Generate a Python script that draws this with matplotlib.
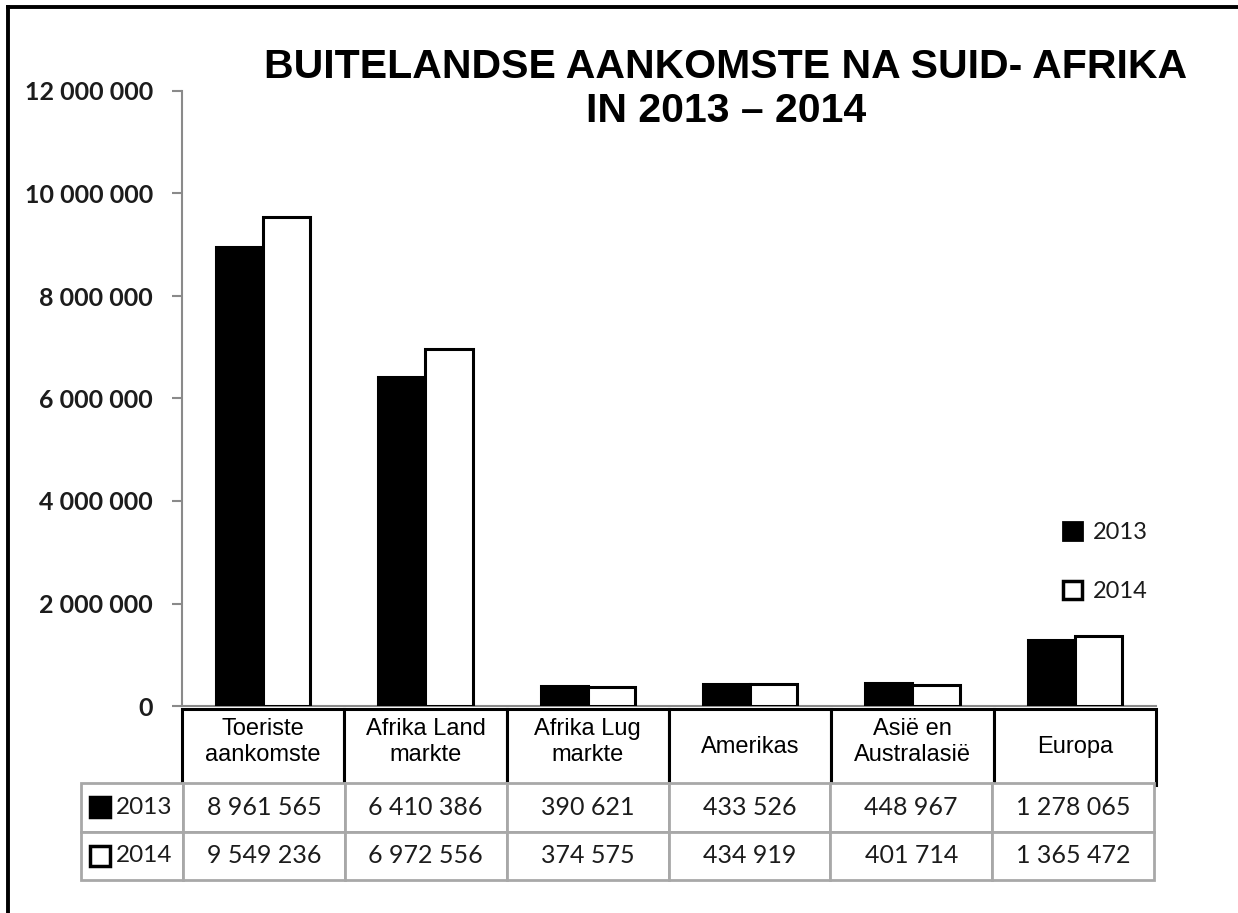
import matplotlib
matplotlib.use("Agg")
import matplotlib.pyplot as plt
from matplotlib.patches import Patch, Rectangle
from matplotlib.lines import Line2D
from matplotlib.ticker import FuncFormatter, MultipleLocator
from matplotlib.transforms import Affine2D

# data
categories = ["Toeriste\naankomste", "Afrika Land\nmarkte", "Afrika Lug\nmarkte",
              "Amerikas", "Asië en\nAustralasië", "Europa"]
years = ["2013", "2014"]
arrivals_2013 = [8961565, 6410386, 390621, 433526, 448967, 1278065]
arrivals_2014 = [9549236, 6972556, 374575, 434919, 401714, 1365472]

TEXT = "#1c1c1c"
GRID_GRAY = "#a8a8a8"
AXIS_GRAY = "#8a8a8a"


def spaced(v):
    return f"{int(v):,}".replace(",", " ")


fig = plt.figure(figsize=(12.38, 9.13), dpi=100)
W, H = 1238, 913

# axes placed to match the reference in pixels
ax_l, ax_r, ax_top, ax_bot = 182, 1156, 91, 706
ax = fig.add_axes([ax_l / W, 1 - ax_bot / H, (ax_r - ax_l) / W, (ax_bot - ax_top) / H])

x = range(len(categories))
bw = 0.29
ax.bar([i - bw / 2 for i in x], arrivals_2013, bw, color="black",
       edgecolor="black", linewidth=2.2, zorder=3)
ax.bar([i + bw / 2 for i in x], arrivals_2014, bw, color="white",
       edgecolor="black", linewidth=2.2, zorder=3)

ax.set_xlim(-0.5, len(categories) - 0.5)
ax.set_ylim(0, 12_000_000)
ax.yaxis.set_major_locator(MultipleLocator(2_000_000))
ax.yaxis.set_major_formatter(FuncFormatter(lambda v, p: spaced(v)))
ax.set_xticks([])
for s in ("top", "right"):
    ax.spines[s].set_visible(False)
ax.spines["left"].set_color(AXIS_GRAY)
ax.spines["left"].set_linewidth(1.5)
ax.spines["bottom"].set_color(AXIS_GRAY)
ax.spines["bottom"].set_linewidth(1.5)
ax.tick_params(axis="y", length=7, width=1.5, color=AXIS_GRAY, pad=14)
for lab in ax.get_yticklabels():
    lab.set_fontfamily("Lato")
    lab.set_fontweight("bold")
    lab.set_fontsize(18)
    lab.set_color(TEXT)

axh = ax_bot - ax_top
axw = ax_r - ax_l

# category label table directly under the plot
lt_top, lt_bot = 709, 785
cat_tab = ax.table(cellText=[categories], cellLoc="center",
                   bbox=[0, -(lt_bot - ax_bot) / axh, 1, (lt_bot - lt_top) / axh])
cat_tab.auto_set_font_size(False)
for cell in cat_tab.get_celld().values():
    cell.set_edgecolor("black")
    cell.set_linewidth(2.2)
    t = cell.get_text()
    t.set_fontfamily("Liberation Sans")
    t.set_fontsize(17)
    t.set_linespacing(1.25)
    t.set_color("black")
    if "\n" in t.get_text():
        # two-line labels sit a little above the cell centre
        t.set_transform(Affine2D().translate(0, 5))

# data table with row labels
dt_left, dt_right, dt_top, dt_bot = 81, 1154, 783, 880
rows = [arrivals_2013, arrivals_2014]
cell_text = [[y] + [spaced(v) for v in r] for y, r in zip(years, rows)]
lab_w = (183 - dt_left) / (dt_right - dt_left)
col_w = [lab_w] + [(1 - lab_w) / len(categories)] * len(categories)
tb_x = (dt_left - ax_l) / axw
tb_y = -(dt_bot - ax_bot) / axh
tb_w = (dt_right - dt_left) / axw
tb_h = (dt_bot - dt_top) / axh
data_tab = ax.table(cellText=cell_text, cellLoc="center", colWidths=col_w,
                    bbox=[tb_x, tb_y, tb_w, tb_h], zorder=1)
data_tab.auto_set_font_size(False)
for (r, c), cell in data_tab.get_celld().items():
    cell.set_edgecolor(GRID_GRAY)
    cell.set_linewidth(2)
    t = cell.get_text()
    t.set_fontfamily("Lato")
    t.set_fontsize(18 if c else 17.5)
    t.set_color(TEXT)
    if c == 0:
        cell._loc = "right"
        t.set_horizontalalignment("right")

# little year swatches in the row-label cells
sq_w = 20 / axw
sq_h = 20 / axh
row_h = tb_h / 2
for i, fc in enumerate(["black", "white"]):
    cy = tb_y + tb_h - (i + 0.5) * row_h
    ax.add_patch(Rectangle((tb_x + 9 / axw, cy - sq_h / 2), sq_w, sq_h,
                           facecolor=fc, edgecolor="black", linewidth=2.5,
                           transform=ax.transAxes, clip_on=False, zorder=5))

# legend on the right
handles = [Patch(facecolor="black", edgecolor="black", linewidth=2),
           Patch(facecolor="white", edgecolor="black", linewidth=2.5)]
leg = fig.legend(handles, years, loc="center left",
                 bbox_to_anchor=(1063 / W, 1 - 562 / H), frameon=False,
                 prop={"family": "Lato", "size": 17}, handlelength=0.8,
                 handleheight=0.8, handletextpad=0.45, labelspacing=1.6,
                 borderpad=0, borderaxespad=0)
for t in leg.get_texts():
    t.set_color(TEXT)

# title
fig.text(726 / W, 1 - 48 / H, "BUITELANDSE AANKOMSTE NA SUID- AFRIKA\nIN 2013 – 2014",
         ha="center", va="top", fontfamily="Liberation Sans", fontweight="bold",
         fontsize=29.5, linespacing=1.2, color="black")

# outer frame (only left and top edges show in the reference)
fig.add_artist(Line2D([8 / W, 8 / W], [0, 1 - 7 / H], color="black", linewidth=2.8,
                      transform=fig.transFigure))
fig.add_artist(Line2D([8 / W, 1], [1 - 7 / H, 1 - 7 / H], color="black", linewidth=2.8,
                      transform=fig.transFigure))

fig.savefig("out.png", dpi=100)
